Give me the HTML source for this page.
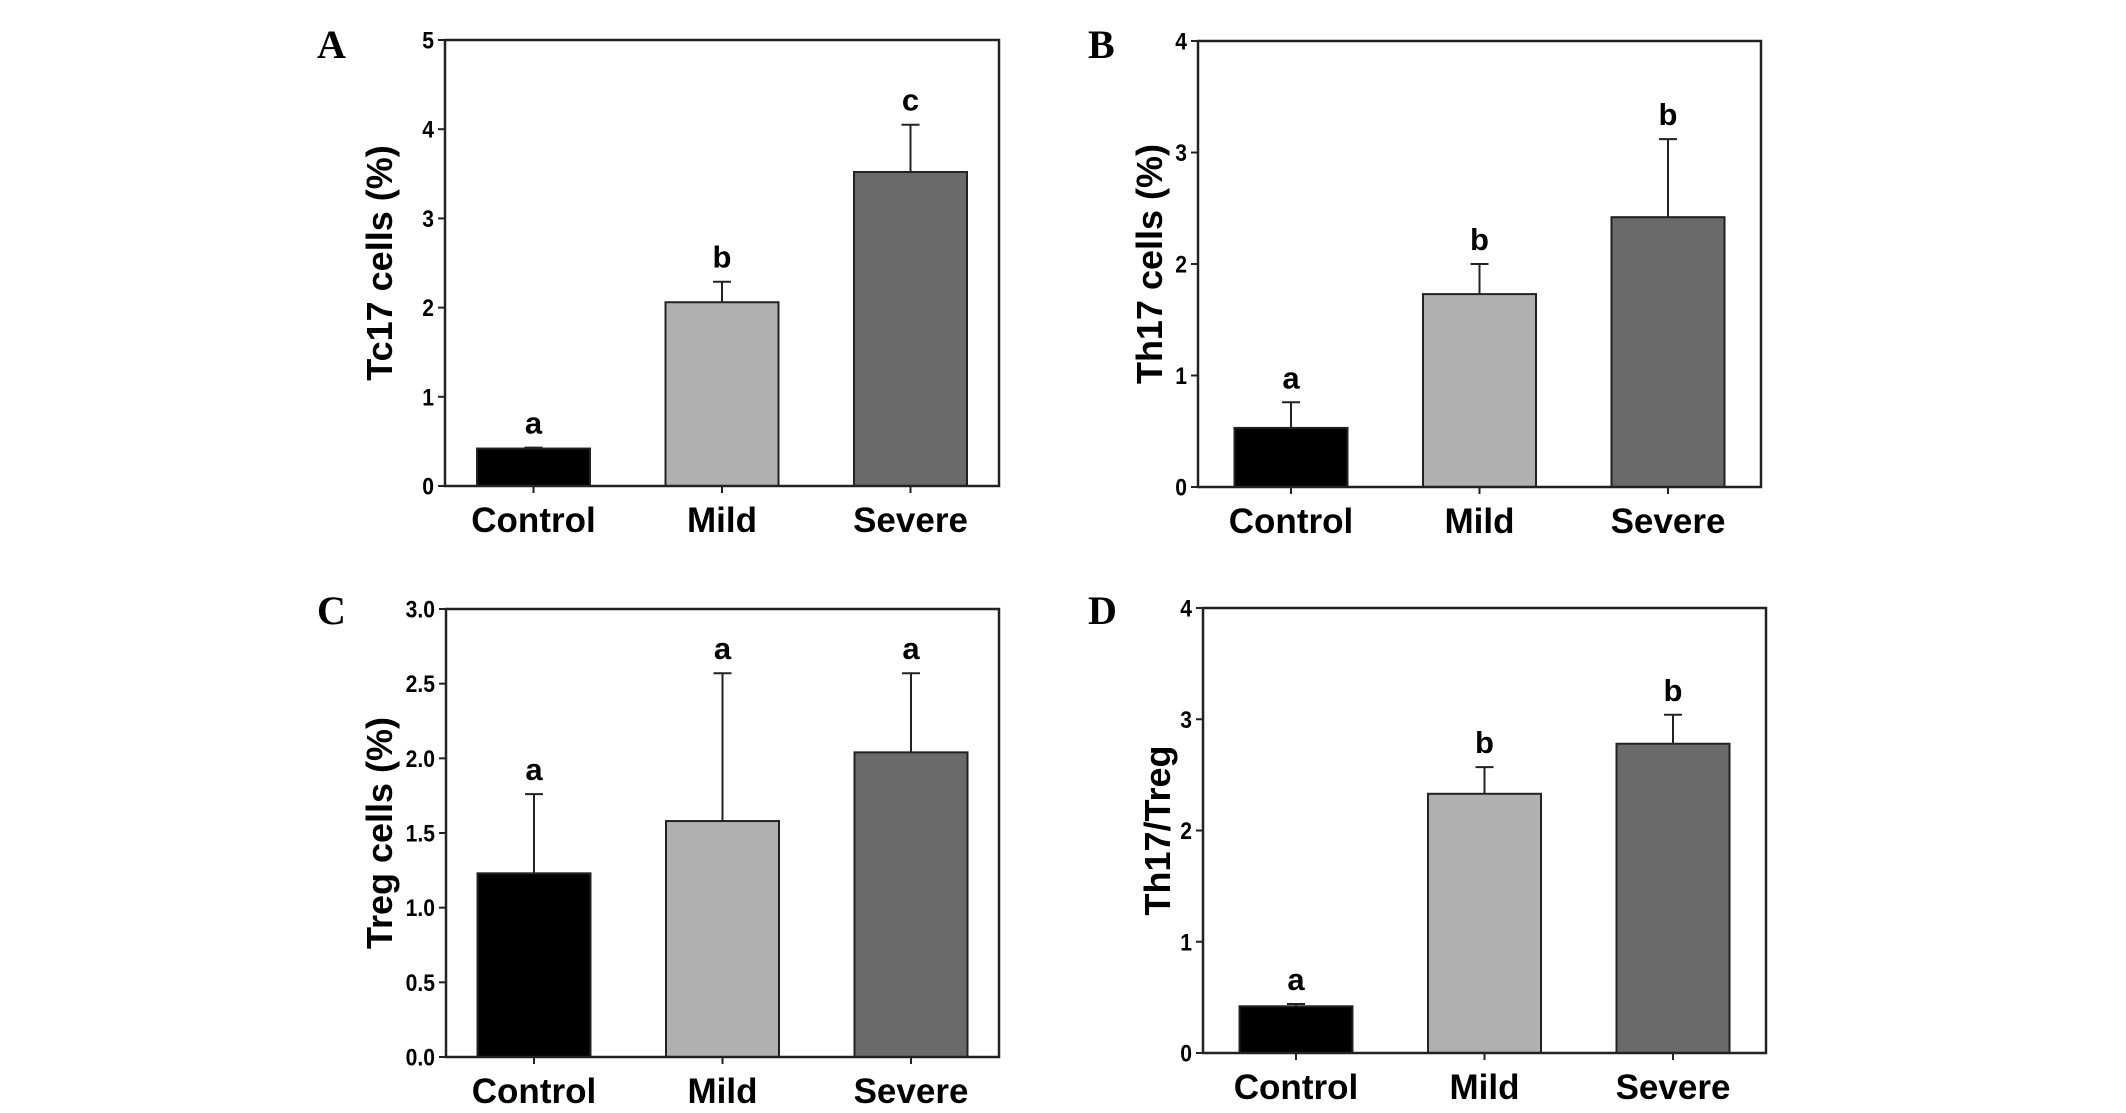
<!DOCTYPE html>
<html><head><meta charset="utf-8"><style>
html,body{margin:0;padding:0;background:#fff;}
svg{display:block;}
text{font-family:"Liberation Sans",Arial,sans-serif;font-weight:bold;fill:#000;}
.pl{font-family:"Liberation Serif","Times New Roman",serif;}
</style></head><body>
<svg id="fig" width="2126" height="1113" viewBox="0 0 2126 1113" xmlns="http://www.w3.org/2000/svg"></svg>
<script>
const categories = ["Control", "Mild", "Severe"];
const aValues = [0.42, 2.06, 3.52];
const aErrors = [0.43, 2.29, 4.05];
const aLetters = ["a", "b", "c"];
const aTicks = ["0", "1", "2", "3", "4", "5"];
const bValues = [0.53, 1.73, 2.42];
const bErrors = [0.76, 2.00, 3.12];
const bLetters = ["a", "b", "b"];
const bTicks = ["0", "1", "2", "3", "4"];
const cValues = [1.23, 1.58, 2.04];
const cErrors = [1.76, 2.57, 2.57];
const cLetters = ["a", "a", "a"];
const cTicks = ["0.0", "0.5", "1.0", "1.5", "2.0", "2.5", "3.0"];
const dValues = [0.42, 2.33, 2.78];
const dErrors = [0.44, 2.57, 3.04];
const dLetters = ["a", "b", "b"];
const dTicks = ["0", "1", "2", "3", "4"];

const NS = "http://www.w3.org/2000/svg";
const svg = document.getElementById("fig");
const fills = ["#000000", "#b0b0b0", "#6a6a6a"];
function mk(tag, attrs, parent, txt) {
  const e = document.createElementNS(NS, tag);
  for (const k in attrs) e.setAttribute(k, attrs[k]);
  if (txt !== undefined) e.textContent = txt;
  parent.appendChild(e);
  return e;
}
function panel(id, letter, title, box, ticks, vals, errs, lets) {
  const g = mk("g", {}, svg);
  
  
  const L = box.l, R = box.r, T = box.t, B = box.b;
  const yMin = parseFloat(ticks[0]), yMax = parseFloat(ticks[ticks.length - 1]);
  const y = v => B - (v - yMin) / (yMax - yMin) * (B - T);
  const mid = (L + R) / 2, sp = 188.5;
  const x = i => mid + (i - 1) * sp;
  const bw = 113;
  vals.forEach((v, i) => {
    const r = mk("rect", {x: x(i) - bw / 2, y: y(v), width: bw, height: B - y(v), fill: fills[i], stroke: "#222", "stroke-width": 2}, g);
    
    
    const eb = mk("path", {d: `M${x(i)} ${y(v)} V${y(errs[i])} M${x(i) - 9} ${y(errs[i])} H${x(i) + 9}`, stroke: "#222", "stroke-width": 2, fill: "none"}, g);
    
    
    const lt = mk("text", {x: x(i), y: y(errs[i]) - 14, "text-anchor": "middle", "font-size": 31}, g, lets[i]);
    
    
    const xt = mk("line", {x1: x(i), x2: x(i), y1: B, y2: B + 7, stroke: "#222", "stroke-width": 2}, g);
    
    
    const cl = mk("text", {x: x(i), y: B + 46, "text-anchor": "middle", "font-size": 35}, g, categories[i]);
    
    
  });
  const fr = mk("rect", {x: L, y: T, width: R - L, height: B - T, fill: "none", stroke: "#222", "stroke-width": 2.5}, g);
  
  
  ticks.forEach(t => {
    const yy = y(parseFloat(t));
    const tl = mk("line", {x1: L - 7, x2: L, y1: yy, y2: yy, stroke: "#222", "stroke-width": 2}, g);
    
    
    const tx = mk("text", {x: 0, y: 0, "text-anchor": "end", "font-size": 24, transform: `translate(${L - 11} ${yy + 8.5}) scale(0.88 1)`}, g, t);
    
    
  });
  const cy = (T + B) / 2;
  const yt = mk("text", {x: box.tx, y: cy, "text-anchor": "middle", "font-size": 36, transform: `rotate(-90 ${box.tx} ${cy})`}, g, title);
  
  
  const pl = mk("text", {x: box.lx, y: box.ly, "font-size": 40, "class": "pl"}, g, letter);
  
  
}
panel("a", "A", "Tc17 cells (%)", {l: 445, r: 999, t: 40, b: 486, tx: 392, lx: 317, ly: 58}, aTicks, aValues, aErrors, aLetters);
panel("b", "B", "Th17 cells (%)", {l: 1198, r: 1761, t: 41, b: 487, tx: 1162, lx: 1088, ly: 58}, bTicks, bValues, bErrors, bLetters);
panel("c", "C", "Treg cells (%)", {l: 446, r: 999, t: 609, b: 1057, tx: 392, lx: 317, ly: 624}, cTicks, cValues, cErrors, cLetters);
panel("d", "D", "Th17/Treg", {l: 1203, r: 1766, t: 608, b: 1053, tx: 1170, lx: 1088, ly: 624}, dTicks, dValues, dErrors, dLetters);
</script>
</body></html>
